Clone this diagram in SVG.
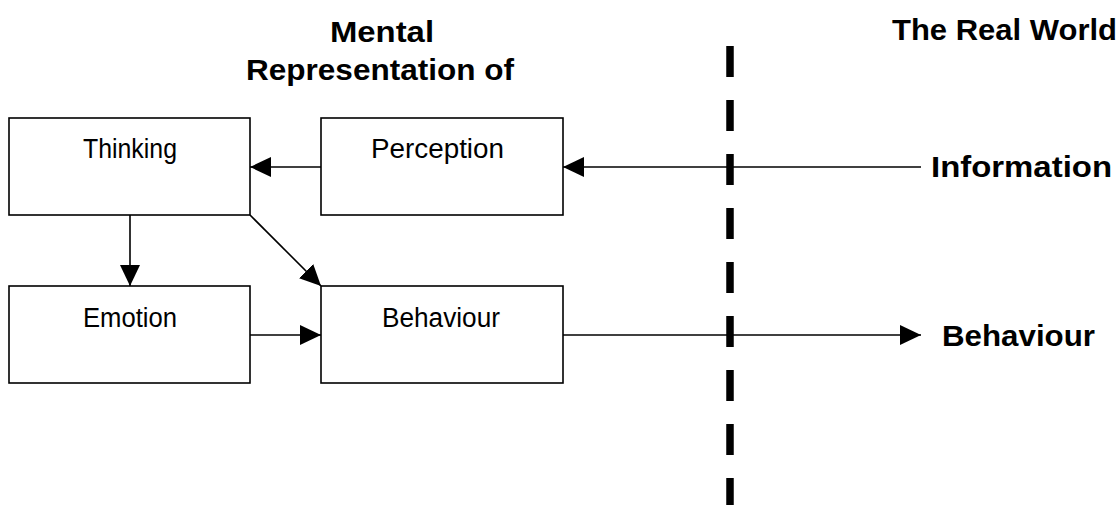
<svg xmlns="http://www.w3.org/2000/svg" width="1120" height="505" viewBox="0 0 1120 505">
<style>
.box{fill:#fff;stroke:#000;stroke-width:1.6}
.lbl{font-family:"Liberation Sans",Arial,sans-serif;font-size:27px;fill:#000}
.hd{font-family:"Liberation Sans",Arial,sans-serif;font-weight:bold;font-size:29px;fill:#000}
.conn{stroke:#000;stroke-width:1.6;fill:none;marker-end:url(#ah)}
</style>
<defs>
<marker id="ah" markerUnits="userSpaceOnUse" markerWidth="21" markerHeight="20" refX="21" refY="10" orient="auto">
<path d="M0,0 L21,10 L0,20 z" fill="#000"/>
</marker>
</defs>
<rect width="1120" height="505" fill="#fff"/>
<g id="titles">
<text class="hd" x="330" y="42" textLength="104" lengthAdjust="spacingAndGlyphs">Mental</text>
<text class="hd" x="246" y="80" textLength="268" lengthAdjust="spacingAndGlyphs">Representation of</text>
<text class="hd" x="892" y="40" textLength="225" lengthAdjust="spacingAndGlyphs">The Real World</text>
</g>
<g id="divider">
<line x1="730" y1="46" x2="730" y2="505" stroke="#000" stroke-width="7.5" stroke-dasharray="31 23"/>
</g>
<g id="connectors">
<line class="conn" x1="321" y1="167" x2="250" y2="167"/>
<line class="conn" x1="921" y1="167" x2="563" y2="167"/>
<line class="conn" x1="130" y1="215" x2="130" y2="286"/>
<line class="conn" x1="250" y1="215" x2="321" y2="286"/>
<line class="conn" x1="250" y1="335" x2="321" y2="335"/>
<line class="conn" x1="563" y1="335" x2="921" y2="335"/>
</g>
<g id="thinking">
<rect class="box" x="9" y="118" width="241" height="97"/>
<text class="lbl" x="83" y="158" textLength="94" lengthAdjust="spacingAndGlyphs">Thinking</text>
</g>
<g id="perception">
<rect class="box" x="321" y="118" width="242" height="97"/>
<text class="lbl" x="371" y="158" textLength="133" lengthAdjust="spacingAndGlyphs">Perception</text>
</g>
<g id="emotion">
<rect class="box" x="9" y="286" width="241" height="97"/>
<text class="lbl" x="83" y="327" textLength="94" lengthAdjust="spacingAndGlyphs">Emotion</text>
</g>
<g id="behaviour">
<rect class="box" x="321" y="286" width="242" height="97"/>
<text class="lbl" x="382" y="327" textLength="118" lengthAdjust="spacingAndGlyphs">Behaviour</text>
</g>
<g id="information-label">
<text class="hd" x="931" y="177" textLength="181" lengthAdjust="spacingAndGlyphs">Information</text>
</g>
<g id="behaviour-label">
<text class="hd" x="942" y="346" textLength="153" lengthAdjust="spacingAndGlyphs">Behaviour</text>
</g>
</svg>
